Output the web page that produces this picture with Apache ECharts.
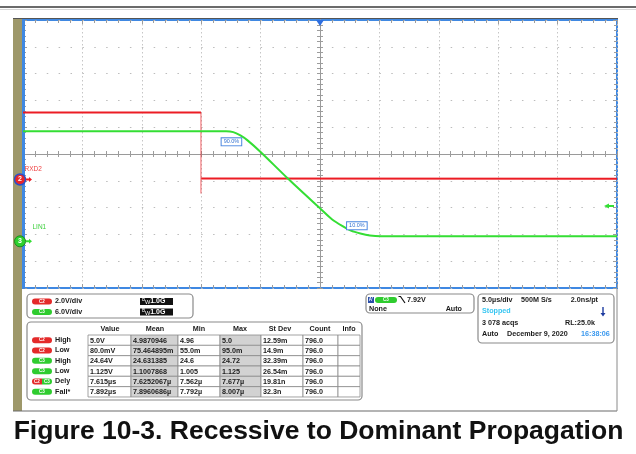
<!DOCTYPE html>
<html>
<head>
<meta charset="utf-8">
<script src="https://cdn.jsdelivr.net/npm/echarts@6/dist/echarts.min.js"></script>
<style>
  html, body { margin: 0; padding: 0; background: #fff; }
  #chart { width: 636px; height: 454px; }
</style>
</head>
<body>
<div id="chart"></div>
<script>
(function () {
    'use strict';

    // traces: time in us, level in volts
    var redTime = [-25, -10.02, -10.02, -10.0, 25];
    var redVolt = [5.0, 5.0, '-', 0.08, 0.05];
    var redEdgeTime = [-10.02, -10.02];
    var redEdgeVolt = [5.0, -1.05];
    var greenTime = [-25, -7.9, -7.3, -6.7, -6.1, -5.0, -2.8, 0, 1.0, 1.9, 2.6, 3.4, 4.2, 5.1, 25];
    var greenVolt = [24.64, 24.64, 24.45, 23.7, 22.6, 20.0, 14.3, 7.4, 4.95, 3.4, 2.4, 1.75, 1.3, 1.13, 1.125];
    var refLevels = [['90.0%', -6.0, 22.27], ['10.0%', 1.9, 3.48]];
    var trigLevel = 7.92;

    // channel panel
    var chanNames = ['C2', 'C3'];
    var chanScale = ['2.0V/div', '6.0V/div'];
    var chanBw = ['1.0G', '1.0G'];

    // measurement table
    var measHeaders = ['Value', 'Mean', 'Min', 'Max', 'St Dev', 'Count', 'Info'];
    var measNames = ['High', 'Low', 'High', 'Low', 'Dely', 'Fall*'];
    var measSources = [['C2'], ['C2'], ['C3'], ['C3'], ['C2', 'C3'], ['C3']];
    var measValue = ['5.0V', '80.0mV', '24.64V', '1.125V', '7.615\u00b5s', '7.892\u00b5s'];
    var measMean = ['4.9870946', '75.464895m', '24.631385', '1.1007868', '7.6252067\u00b5', '7.8960686\u00b5'];
    var measMin = ['4.96', '55.0m', '24.6', '1.005', '7.562\u00b5', '7.792\u00b5'];
    var measMax = ['5.0', '95.0m', '24.72', '1.125', '7.677\u00b5', '8.007\u00b5'];
    var measStdDev = ['12.59m', '14.9m', '32.39m', '26.54m', '19.81n', '32.3n'];
    var measCount = ['796.0', '796.0', '796.0', '796.0', '796.0', '796.0'];
    var measInfo = ['', '', '', '', '', ''];

    var RED = '#ec1c24', GREEN = '#34de34', BLUE = '#3f88e2';
    var FONT = '"Liberation Sans", Arial, sans-serif';

    function pts(xs, ys) {
        return xs.map(function (x, i) { return [x, ys[i]]; });
    }

    function txt(x, y, s, opt) {
        opt = opt || {};
        return {
            type: 'text', z: 110,
            style: {
                x: x, y: y, text: s,
                font: (opt.weight || 'bold') + ' ' + (opt.size || 7.2) + 'px ' + FONT,
                fill: opt.color || '#1a1a1a',
                textAlign: opt.align || 'left', align: opt.align || 'left',
                textVerticalAlign: 'middle', verticalAlign: 'middle'
            }
        };
    }

    function pill(x, y, w, h, names) {
        var out = [];
        var col = { C2: '#e42a2a', C3: '#2fcc2f' };
        var part = w / names.length;
        names.forEach(function (n, i) {
            var r = names.length === 1 ? h / 2 : (i === 0 ? [h / 2, 0, 0, h / 2] : [0, h / 2, h / 2, 0]);
            out.push({
                type: 'rect', z: 105,
                shape: { x: x + i * part, y: y - h / 2, width: part, height: h, r: r },
                style: { fill: col[n] }
            });
            out.push(txt(x + i * part + part / 2, y, n, { size: 4.5, color: '#fff', align: 'center' }));
        });
        return out;
    }

    function panel(x, y, w, h) {
        return {
            type: 'rect', z: 100,
            shape: { x: x, y: y, width: w, height: h, r: 4 },
            style: { fill: '#fff', stroke: '#8a8a8a', lineWidth: 1.2 }
        };
    }

    var g = [];
    // page and frame lines
    g.push({ type: 'line', z: 100, shape: { x1: 0, y1: 7, x2: 636, y2: 7 }, style: { stroke: '#3a3a3a', lineWidth: 1.5 } });
    g.push({ type: 'line', z: 100, shape: { x1: 0, y1: 9.5, x2: 636, y2: 9.5 }, style: { stroke: '#d6d6d6', lineWidth: 1 } });
    g.push({ type: 'rect', z: 1, shape: { x: 13, y: 18, width: 9, height: 393 }, style: { fill: '#9e986a' } });
    g.push({ type: 'line', z: 1, shape: { x1: 13, y1: 18.5, x2: 618, y2: 18.5 }, style: { stroke: '#555', lineWidth: 1.2 } });
    g.push({ type: 'rect', z: 1, shape: { x: 22, y: 19, width: 3, height: 270 }, style: { fill: BLUE } });
    g.push({ type: 'line', z: 100, shape: { x1: 13, y1: 411, x2: 617, y2: 411 }, style: { stroke: '#6a6a6a', lineWidth: 1.2 } });
    g.push({ type: 'line', z: 100, shape: { x1: 617, y1: 289, x2: 617, y2: 411 }, style: { stroke: '#8a8a8a', lineWidth: 1 } });

    // channel scale panel
    g.push(panel(27, 294, 166, 24));
    chanNames.forEach(function (n, i) {
        var y = 301.5 + i * 10.5;
        g = g.concat(pill(32, y, 20, 6, [n]));
        g.push(txt(55, y, chanScale[i]));
        g.push({ type: 'rect', z: 105, shape: { x: 140, y: y - 3.5, width: 33, height: 7 }, style: { fill: '#111' } });
        g.push({
            type: 'text', z: 110,
            style: {
                x: 142, y: y, text: '{s|B}{t|W}' + chanBw[i],
                font: 'bold 7px ' + FONT, fill: '#fff', verticalAlign: 'middle', textVerticalAlign: 'middle',
                rich: { s: { fontSize: 4.5, padding: [0, 0, 3, 0] }, t: { fontSize: 5.5, padding: [2, 0, 0, 0] } }
            }
        });
    });

    // measurement table
    g.push(panel(27, 322, 335, 78));
    var colX = [88, 131, 178, 220, 261, 303, 338, 360];
    var headX = [110, 155, 199, 240, 280, 320, 349];
    var rowTop = 335, rowH = 10.33;
    measHeaders.forEach(function (h, c) { g.push(txt(headX[c], 329, h, { align: 'center' })); });
    var cols = [measValue, measMean, measMin, measMax, measStdDev, measCount, measInfo];
    measNames.forEach(function (name, r) {
        var yc = rowTop + r * rowH + rowH / 2;
        g = g.concat(pill(32, yc, 20, 6, measSources[r]));
        g.push(txt(55, yc, name));
        cols.forEach(function (col, c) {
            g.push({
                type: 'rect', z: 102,
                shape: { x: colX[c], y: rowTop + r * rowH, width: colX[c + 1] - colX[c], height: rowH },
                style: { fill: (c === 1 || c === 3) ? '#d2d2d2' : '#fff', stroke: '#8c8c8c', lineWidth: 0.8 }
            });
            g.push(txt(colX[c] + 2, yc + 0.5, col[r]));
        });
    });

    // trigger panel
    g.push(panel(366, 294, 108, 19));
    g.push({ type: 'rect', z: 105, shape: { x: 368, y: 297, width: 6, height: 6 }, style: { fill: '#2a4ea8' } });
    g.push(txt(371, 300, "A'", { size: 4.5, color: '#fff', align: 'center' }));
    g = g.concat(pill(375, 300, 22, 6, ['C3']));
    g.push({ type: 'polyline', z: 105, shape: { points: [[398.5, 296.5], [400.5, 296.5], [405, 303]] }, style: { stroke: '#111', lineWidth: 1.2, fill: null } });
    g.push(txt(407, 300, trigLevel.toFixed(2) + 'V'));
    g.push(txt(369, 309.5, 'None'));
    g.push(txt(462, 309.5, 'Auto', { align: 'right' }));

    // horizontal / acquisition panel
    g.push(panel(478, 294, 136, 49));
    g.push(txt(482, 300, '5.0\u00b5s/div'));
    g.push(txt(521, 300, '500M S/s'));
    g.push(txt(598, 300, '2.0ns/pt', { align: 'right' }));
    g.push(txt(482, 311.5, 'Stopped', { color: '#37c6f2' }));
    g.push({ type: 'polygon', z: 105, shape: { points: [[602.3, 307], [603.7, 307], [603.7, 313], [605.5, 313], [603, 316.5], [600.5, 313], [602.3, 313]] }, style: { fill: '#1f3ca0' } });
    g.push(txt(482, 323, '3 078 acqs'));
    g.push(txt(595, 323, 'RL:25.0k', { align: 'right' }));
    g.push(txt(482, 334.3, 'Auto'));
    g.push(txt(507, 334.3, 'December 9, 2020'));
    g.push(txt(581, 334.3, '16:38:06', { color: '#3a98ee' }));

    // caption
    g.push({
        type: 'text', z: 110,
        style: {
            x: 318.5, y: 432, text: 'Figure 10-3. Recessive to Dominant Propagation',
            font: 'bold 26.5px ' + FONT, fill: '#111',
            textAlign: 'center', align: 'center', textVerticalAlign: 'middle', verticalAlign: 'middle'
        }
    });

    var tickCol = '#9c9c9c';
    function edgeX(pos) {
        return {
            type: 'value', min: -25, max: 25, interval: 5, position: pos,
            axisLine: { show: false, onZero: false },
            axisTick: { show: true, inside: true, length: 4, lineStyle: { color: tickCol } },
            minorTick: { show: true, splitNumber: 5, length: 3, lineStyle: { color: tickCol } },
            axisLabel: { show: false },
            splitLine: { show: pos === 'bottom', lineStyle: { color: '#c6c6c6', type: [1.5, 2.5] } }
        };
    }
    function centerX(inside) {
        return {
            type: 'value', min: -25, max: 25, interval: 5, position: 'bottom',
            axisLine: { show: true, onZero: true, onZeroAxisIndex: 0, lineStyle: { color: '#9a9a9a', width: 1 } },
            axisTick: { show: true, inside: inside, length: 3, lineStyle: { color: tickCol } },
            minorTick: { show: true, splitNumber: 5, length: 3, lineStyle: { color: tickCol } },
            axisLabel: { show: false }, splitLine: { show: false }
        };
    }
    function edgeY(pos) {
        return {
            type: 'value', min: -5, max: 5, interval: 1, position: pos,
            axisLine: { show: false, onZero: false },
            axisTick: { show: true, inside: true, length: 4, lineStyle: { color: tickCol } },
            minorTick: { show: true, splitNumber: 5, length: 3, lineStyle: { color: tickCol } },
            axisLabel: { show: false },
            splitLine: { show: pos === 'left', lineStyle: { color: '#bcbcbc', type: [1.5, 10.38] } }
        };
    }
    function centerY(inside) {
        return {
            type: 'value', min: -5, max: 5, interval: 1, position: 'left',
            axisLine: { show: true, onZero: true, onZeroAxisIndex: 0, lineStyle: { color: '#9a9a9a', width: 1 } },
            axisTick: { show: true, inside: inside, length: 3, lineStyle: { color: tickCol } },
            minorTick: { show: true, splitNumber: 5, length: 3, lineStyle: { color: tickCol } },
            axisLabel: { show: false }, splitLine: { show: false }
        };
    }
    function voltAxis(min, max) {
        return { type: 'value', min: min, max: max, show: false, axisLine: { onZero: false }, splitLine: { show: false } };
    }

    var arrowLeft = 'path://M0,5 L6,0 L6,3 L12,3 L12,7 L6,7 L6,10 Z';
    var arrowRight = 'path://M12,5 L6,0 L6,3 L0,3 L0,7 L6,7 L6,10 Z';
    var hidden = { color: 'rgba(0,0,0,0)' };

    var redMarks = [
        { coord: [0, 11.9], symbol: 'triangle', symbolRotate: 180, symbolSize: [8, 6], symbolOffset: [0, 3], itemStyle: { color: '#2f6fe0' }, label: { show: false } },
        { coord: [-25, 0], symbol: 'circle', symbolSize: 11, symbolOffset: [-3, 0], itemStyle: { color: '#e8262a', borderColor: '#2a50c8', borderWidth: 1.5 },
          label: { show: true, formatter: '2', position: 'inside', color: '#fff', fontSize: 7, fontWeight: 'bold' } },
        { coord: [-25, 0], symbol: arrowRight, symbolSize: [6, 5], symbolOffset: [6, 0], itemStyle: { color: RED }, label: { show: false } },
        { coord: [-25, 0], symbol: 'rect', symbolSize: 1, itemStyle: hidden,
          label: { show: true, formatter: 'RXD2', position: 'right', distance: 1, offset: [0, -10], color: '#f04545', fontSize: 6.5, fontFamily: FONT } }
    ];
    var greenMarks = [
        { coord: [-25, 0], symbol: 'circle', symbolSize: 11, symbolOffset: [-3, 0], itemStyle: { color: '#2ed12e', borderColor: '#1c8c1c', borderWidth: 1 },
          label: { show: true, formatter: '3', position: 'inside', color: '#fff', fontSize: 7, fontWeight: 'bold' } },
        { coord: [-25, 0], symbol: arrowRight, symbolSize: [6, 5], symbolOffset: [6, 0], itemStyle: { color: GREEN }, label: { show: false } },
        { coord: [-25, 0], symbol: 'rect', symbolSize: 1, itemStyle: hidden,
          label: { show: true, formatter: 'LIN1', position: 'right', distance: 9, offset: [0, -14], color: '#3bcf3b', fontSize: 6.5, fontFamily: FONT } },
        { coord: [25, trigLevel], symbol: arrowLeft, symbolSize: [10, 5], symbolOffset: [-8, 0], itemStyle: { color: GREEN }, label: { show: false } }
    ];
    refLevels.forEach(function (r, i) {
        greenMarks.push({
            coord: [r[1], r[2]], symbol: 'rect', symbolSize: 1, itemStyle: hidden,
            label: { show: true, formatter: r[0], position: i === 0 ? 'left' : 'right', distance: i === 0 ? 7 : 4,
                     backgroundColor: '#fff', borderColor: '#4a86e0', borderWidth: 1, padding: [1, 2, 0, 2],
                     color: '#3070d0', fontSize: 5.5, fontFamily: FONT }
        });
    });

    var option = {
        animation: false,
        backgroundColor: '#fff',
        grid: { left: 23, top: 20, width: 594, height: 268, show: true, borderColor: BLUE, borderWidth: 2, backgroundColor: '#fff' },
        xAxis: [edgeX('bottom'), edgeX('top'), centerX(true), centerX(false)],
        yAxis: [edgeY('left'), edgeY('right'), centerY(true), centerY(false), voltAxis(-8.1, 11.9), voltAxis(-10.45, 49.55)],
        series: [
            {
                name: 'RXD2 edge', type: 'line', xAxisIndex: 0, yAxisIndex: 4,
                data: pts(redEdgeTime, redEdgeVolt), showSymbol: false, silent: true,
                lineStyle: { color: RED, width: 1, opacity: 0.7 }
            },
            {
                name: 'RXD2', type: 'line', xAxisIndex: 0, yAxisIndex: 4, z: 5,
                data: pts(redTime, redVolt), showSymbol: false, connectNulls: false, silent: true,
                lineStyle: { color: RED, width: 2 },
                markPoint: { silent: true, z: 20, data: redMarks }
            },
            {
                name: 'LIN1', type: 'line', xAxisIndex: 0, yAxisIndex: 5, z: 5,
                data: pts(greenTime, greenVolt), showSymbol: false, smooth: 0.25, silent: true,
                lineStyle: { color: GREEN, width: 2 },
                markPoint: { silent: true, z: 20, data: greenMarks }
            }
        ],
        graphic: { elements: g }
    };

    var chart = echarts.init(document.getElementById('chart'));
    chart.setOption(option);
})();
</script>
</body>
</html>
